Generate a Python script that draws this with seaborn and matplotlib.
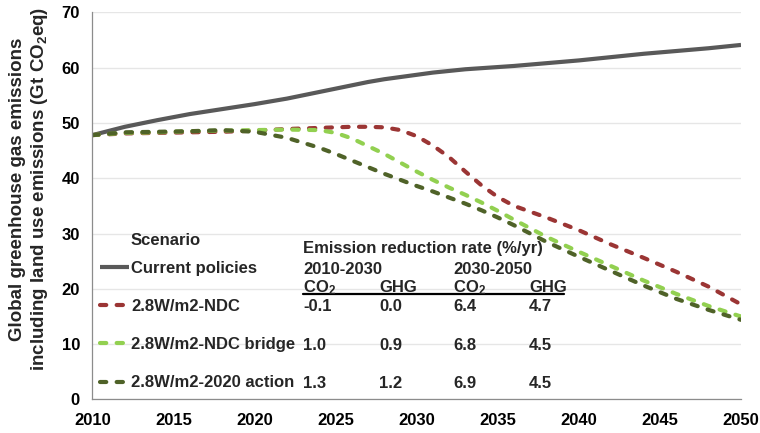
import numpy as np
import pandas as pd
import matplotlib
matplotlib.use("Agg")
import matplotlib.pyplot as plt
import seaborn as sns
from matplotlib.lines import Line2D

# ---------------- data ----------------
years = [2010, 2012, 2014, 2016, 2018, 2020, 2022, 2024, 2025, 2026, 2027, 2028, 2029,
         2030, 2031, 2032, 2033, 2034, 2035, 2036, 2038, 2040, 2042, 2044, 2046, 2048, 2050]

current_policies = [47.8, 49.3, 50.5, 51.6, 52.5, 53.4, 54.4, 55.6, 56.2, 56.8, 57.4, 57.9, 58.3,
                    58.7, 59.1, 59.4, 59.7, 59.9, 60.1, 60.3, 60.8, 61.3, 61.9, 62.5, 63.0, 63.5, 64.1]
ndc = [47.8, 48.1, 48.2, 48.3, 48.4, 48.6, 48.9, 49.1, 49.2, 49.3, 49.3, 49.2, 48.7,
       47.6, 45.9, 43.8, 41.2, 38.7, 36.6, 35.0, 32.9, 30.6, 28.0, 25.6, 23.1, 20.4, 17.2]
ndc_bridge = [47.8, 48.2, 48.3, 48.5, 48.6, 48.7, 48.8, 48.7, 48.2, 47.2, 45.8, 44.4, 42.8,
              41.2, 39.7, 38.3, 37.0, 35.6, 34.1, 32.5, 29.4, 26.7, 24.1, 21.5, 19.1, 16.9, 15.0]
action_2020 = [47.8, 48.3, 48.4, 48.5, 48.7, 48.4, 47.3, 45.5, 44.4, 43.2, 42.0, 40.8, 39.7,
               38.6, 37.6, 36.5, 35.4, 34.2, 32.9, 31.5, 28.5, 25.8, 23.2, 20.6, 18.2, 16.2, 14.4]

scenarios = ["Current policies", "2.8W/m2-NDC", "2.8W/m2-NDC bridge", "2.8W/m2-2020 action"]
colors = ["#595959", "#9B3534", "#92D050", "#4F6228"]

x_ticks = [2010, 2015, 2020, 2025, 2030, 2035, 2040, 2045, 2050]
y_ticks = [0, 10, 20, 30, 40, 50, 60, 70]

legend_title = "Scenario"
table_title = "Emission reduction rate (%/yr)"
periods = ["2010-2030", "2030-2050"]
col_headers = ["CO$_2$", "GHG", "CO$_2$", "GHG"]
rates = [["-0.1", "0.0", "6.4", "4.7"],
         ["1.0", "0.9", "6.8", "4.5"],
         ["1.3", "1.2", "6.9", "4.5"]]
y_label = "Global greenhouse gas emissions\nincluding land use emissions (Gt CO$_2$eq)"

# ---------------- style ----------------
sns.set_theme(style="white")
plt.rcParams["font.family"] = ["Liberation Sans", "DejaVu Sans"]
plt.rcParams["font.weight"] = "bold"
plt.rcParams["mathtext.fontset"] = "custom"
plt.rcParams["mathtext.rm"] = "Liberation Sans:bold"
plt.rcParams["mathtext.bf"] = "Liberation Sans:bold"
plt.rcParams["mathtext.it"] = "Liberation Sans:bold:italic"
plt.rcParams["mathtext.default"] = "bf"

series = [current_policies, ndc, ndc_bridge, action_2020]
df = pd.DataFrame({
    "Year": years * len(scenarios),
    "Emissions": sum(series, []),
    "Scenario": np.repeat(scenarios, len(years)),
})

fig = plt.figure(figsize=(7.6, 4.33), dpi=100)
ax = fig.add_axes([0.1217, 0.0774, 0.8533, 0.8942])

palette = dict(zip(scenarios, colors))
dashes = {s: ((1.5, 2.5) if i > 0 else "") for i, s in enumerate(scenarios)}
sns.lineplot(data=df, x="Year", y="Emissions", hue="Scenario", style="Scenario",
             hue_order=scenarios, style_order=scenarios, palette=palette,
             dashes=dashes, linewidth=3, ax=ax, legend=False, sort=True)
for ln in ax.get_lines():
    ln.set_dash_capstyle("round")
    ln.set_solid_capstyle("butt")

ax.set_xlim(2010, 2050)
ax.set_ylim(0, 70)
ax.set_xticks(x_ticks)
ax.set_yticks(y_ticks)
ax.set_xlabel("")
ax.set_ylabel(y_label, fontsize=13.5, fontweight="bold", linespacing=1.2)
ax.yaxis.set_label_coords(-0.0655, 0.5437)
ax.yaxis.grid(True, color="#e6e6e6", linewidth=1)
ax.set_axisbelow(True)
for s in ["top", "right"]:
    ax.spines[s].set_visible(False)
for s in ["left", "bottom"]:
    ax.spines[s].set_color("#8c8c8c")
    ax.spines[s].set_linewidth(0.9)
ax.tick_params(axis="both", length=0, labelsize=12, colors="black")
ax.tick_params(axis="x", pad=9.5)
ax.tick_params(axis="y", pad=9)

# legend
leg = ax.legend(handles=ax.get_lines()[:4], labels=scenarios, loc="upper left",
                bbox_to_anchor=(0.0116, 0.3577), frameon=False, fontsize=12,
                handlelength=1.75, handletextpad=0.12, labelspacing=1.39,
                borderpad=0, borderaxespad=0)
ax.text(0.0594, 0.410, legend_title, transform=ax.transAxes, fontsize=12,
        fontweight="bold", va="center", ha="left")

# table
cols_x = [0.325, 0.4418, 0.5564, 0.673]
ax.text(cols_x[0], 0.3887, table_title, transform=ax.transAxes, fontsize=12,
        fontweight="bold", va="center", ha="left")
ax.text(cols_x[0], 0.337, periods[0], transform=ax.transAxes, fontsize=12,
        fontweight="bold", va="center", ha="left")
ax.text(cols_x[2], 0.337, periods[1], transform=ax.transAxes, fontsize=12,
        fontweight="bold", va="center", ha="left")
for cx, h in zip(cols_x, col_headers):
    ax.text(cx, 0.2887, h, transform=ax.transAxes, fontsize=12,
            fontweight="bold", va="center", ha="left")
ax.add_line(Line2D([0.325, 0.727], [0.2717, 0.2717], transform=ax.transAxes,
                   color="black", linewidth=1.6))
row_y = [0.2397, 0.139, 0.0418]
for ry, row in zip(row_y, rates):
    for cx, v in zip(cols_x, row):
        ax.text(cx, ry, v, transform=ax.transAxes, fontsize=12,
                fontweight="bold", va="center", ha="left")

fig.savefig("out.png", dpi=100)
